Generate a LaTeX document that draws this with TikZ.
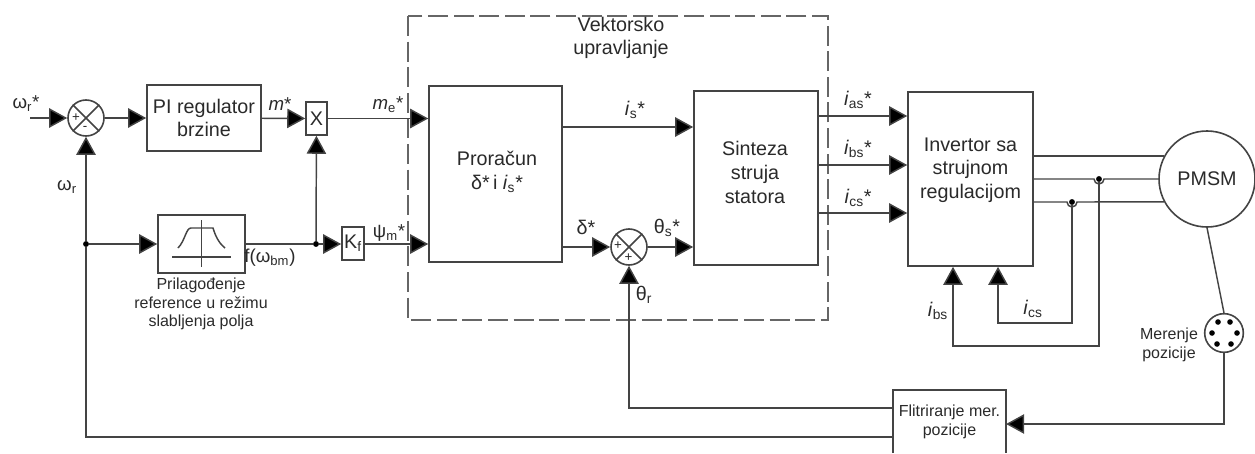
\documentclass[tikz,border=0pt]{standalone}
\usepackage{fontspec}
\setmainfont{Liberation Sans}
\usetikzlibrary{arrows.meta,calc}
\definecolor{ln}{HTML}{444444}
\definecolor{tx}{HTML}{2A2A2A}
\tikzset{
  x=0.75pt,y=-0.75pt,
  every node/.style={text=tx,font=\fontsize{14.8}{17.7}\selectfont,inner sep=0pt,align=center},
  blockbox/.style={draw=ln,line width=1.2pt,fill=white},
  wire/.style={draw=ln,line width=1.1pt},
  arrowwire/.style={wire,-{Triangle[length=13.5pt,width=14.5pt,fill=black]}},
  sumnode/.style={circle,draw=ln,line width=1.2pt,minimum size=27pt,fill=white},
  small/.style={font=\fontsize{12}{14}\selectfont},
  sign/.style={font=\fontsize{10}{10}\selectfont},
  tapdot/.style={circle,fill=black,minimum size=4.4pt},
  lab/.style={font=\fontsize{14}{16}\selectfont}
}
\newcommand{\sumcross}[1]{\draw[ln,line width=1.1pt] (#1.45)--(#1.225) (#1.135)--(#1.315);}
\newcommand{\lsub}[1]{\textsubscript{#1}}
\begin{document}
\begin{tikzpicture}
\useasboundingbox (0,0) rectangle (1255,453);
% dashed frame
\draw[black!60,line width=1.4pt,dash pattern=on 15pt off 4.2pt] (408,16) rectangle (828,320);
% blocks
\node[blockbox,minimum width=85.5pt,minimum height=49.5pt] (pi) at (204,118) {PI regulator\\brzine};
\node[blockbox,minimum width=15.7pt,minimum height=24.7pt] (xb) at (316.5,118.5) {X};
\node[blockbox,minimum width=65.2pt,minimum height=43.5pt] (flt) at (201.5,244) {};
\node[blockbox,minimum width=16.5pt,minimum height=24.7pt] (kf) at (353,243.5) {K\lsub{f}};
\node[blockbox,minimum width=99.7pt,minimum height=132pt] (pro) at (495.5,174) {};
\node at (497,172) {Proračun\\δ*\,i \textit{i}\lsub{s}*};
\node[blockbox,minimum width=93pt,minimum height=130.5pt] (sin) at (756,178) {};
\node at (755,172.5) {Sinteza\\struja\\statora};
\node[blockbox,minimum width=93.7pt,minimum height=130.5pt] (inv) at (970.5,179) {};
\node at (970.5,170) {Invertor sa\\strujnom\\regulacijom};
\node[circle,draw=ln,line width=1.2pt,minimum size=72pt,fill=white] (pmsm) at (1207,179) {PMSM};
\node[circle,draw=ln,line width=1.2pt,minimum size=29pt,fill=white] (enc) at (1224,333) {};
\node[minimum width=84.5pt,minimum height=47.2pt] (fm) at (949.5,421.5) {};
\draw[blockbox] (fm.south west) -- (fm.north west) -- (fm.north east) -- (fm.south east);
\node[small] at (949.5,422) {Flitriranje mer.\\pozicije};
\node[sumnode] (s1) at (86,118) {};
\node[sumnode] (s2) at (629,247) {};
\sumcross{s1}
\sumcross{s2}
\node[sign] at (76,118) {+};
\node[sign] at (85,128) {-};
\node[sign] at (618,246) {+};
\node[sign] at (628.5,257.5) {+};
% filter icon
\coordinate (ft) at (201.5,220); \coordinate (fb) at (201.5,267);
\coordinate (fl) at (172,257); \coordinate (fr) at (231,257);
\draw[ln,line width=1.1pt] (ft)--(fb) (fl)--(fr);
\draw[ln,line width=1.1pt] (178,248) .. controls (185,241) and (186,228) .. (191,228) -- (213,228) .. controls (216,238) and (220,244) .. (225,248);
% encoder dots
\foreach \dx/\dy in {-6/-11,6/-11,13/0,7/11,-7/11,-12/0}{
  \fill[black] ($(enc)+(\dx,\dy)$) circle[radius=2.8];
}
% junctions
\coordinate (in) at (30,118);
\node[tapdot] (j1) at (86,244) {};
\node[tapdot] (j2) at (316,244) {};
\node[tapdot] (tb) at (1099,179) {};
\node[tapdot] (tc) at (1072,202) {};
% forward path
\draw[arrowwire] (in) -- (s1);
\draw[arrowwire] (s1) -- (pi);
\draw[arrowwire] (pi) -- (xb);
\draw[arrowwire] (xb.east) -- (pro.west |- xb.east);
\draw[arrowwire] (j1) -- (flt.west |- j1);
\draw[wire] (flt.east |- j2) -- (j2);
\draw[arrowwire] (j2) -- (xb);
\draw[arrowwire] (j2) -- (kf.west |- j2);
\draw[arrowwire] (kf.east |- j2) -- (pro.west |- j2);
\coordinate (isa) at (pro.east |- 0,127);
\draw[arrowwire] (isa) -- (sin.west |- isa);
\coordinate (dl) at (pro.east |- s2);
\draw[arrowwire] (dl) -- (s2);
\draw[arrowwire] (s2) -- (sin.west |- s2);
\foreach \y in {116,165,213}{
  \coordinate (t) at (sin.east |- 0,\y);
  \draw[arrowwire] (t) -- (inv.west |- t);
}
% motor wires
\coordinate (a1) at (inv.east |- 0,156);
\coordinate (a2) at (inv.east |- 0,179);
\coordinate (a3) at (inv.east |- 0,202);
\draw[wire] (a1) -- (a1 -| pmsm.152.7);
\draw[wire] (a2) -- (1094,179) arc[start angle=180,end angle=0,radius=5] -- (pmsm.west);
\draw[wire] (a3) -- (1067,202) arc[start angle=180,end angle=0,radius=5] -- (pmsm.208.6);
% current feedback
\coordinate (c1) at (1099,346); \coordinate (c2) at (953,346);
\coordinate (d1) at (1072,323); \coordinate (d2) at (998,323);
\draw[arrowwire] (tb) -- (c1) -- (c2) -- (inv.south -| c2);
\draw[arrowwire] (tc) -- (d1) -- (d2) -- (inv.south -| d2);
% position path
\draw[wire] (pmsm.south) -- (enc.north);
\coordinate (e1) at (enc.south |- 0,424);
\draw[arrowwire] (enc.south) -- (e1) -- (fm.east |- e1);
\coordinate (th) at (629,408);
\draw[arrowwire] (fm.west |- th) -- (th) -- (s2);
\coordinate (om) at (86,437);
\draw[arrowwire] (fm.west |- om) -- (om) -- (j1) -- (s1);
% labels
\node[lab] at (26,104) {ω\lsub{r}*};
\node[lab] at (67,187) {ω\lsub{r}};
\node[lab] at (280,104) {\textit{m}*};
\node[lab] at (388,105) {\textit{m}\lsub{e}*};
\node[lab] at (389,233) {ψ\lsub{m}*};
\node[lab] at (270,258) {f(ω\lsub{bm})};
\node[small] at (201,304) {Prilagođenje\\reference u režimu\\slabljenja polja};
\node at (621,38) {Vektorsko\\upravljanje};
\node at (635,110) {\textit{i}\lsub{s}*};
\node at (586,227) {δ*};
\node at (667,228) {θ\lsub{s}*};
\node at (644,295) {θ\lsub{r}};
\node at (858,100) {\textit{i}\lsub{as}*};
\node at (858,149) {\textit{i}\lsub{bs}*};
\node at (858,198) {\textit{i}\lsub{cs}*};
\node at (938,311) {\textit{i}\lsub{bs}};
\node at (1033,309) {\textit{i}\lsub{cs}};
\node[small] at (1169,345) {Merenje\\pozicije};
\end{tikzpicture}
\end{document}
